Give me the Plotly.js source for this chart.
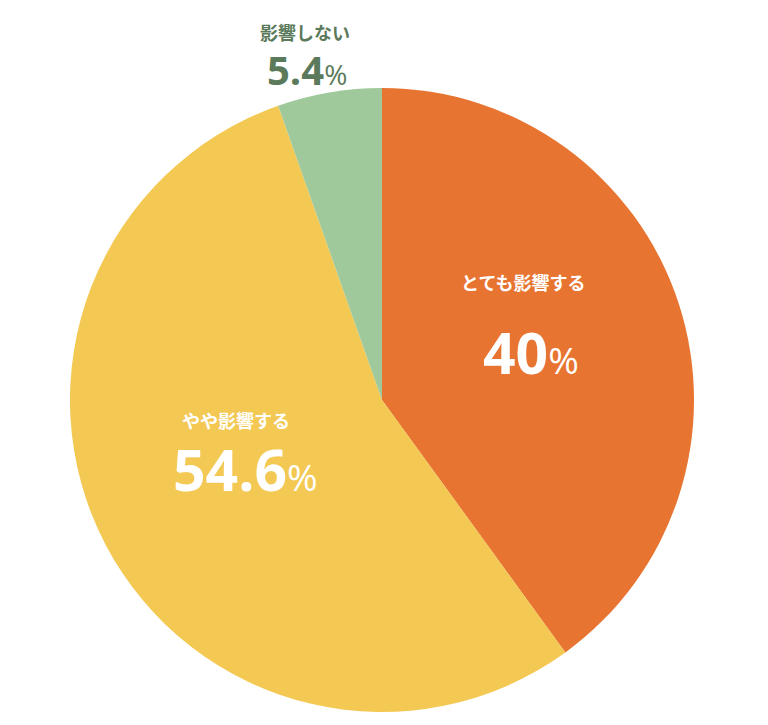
<!DOCTYPE html>
<html>
<head>
<meta charset="utf-8">
<script src="https://cdn.plot.ly/plotly-3.0.1.min.js"></script>
<style>html,body{margin:0;padding:0;background:#fff;}#chart{width:768px;height:725px;}</style>
</head>
<body>
<div id="chart"></div>
<script>
const categories = ["とても影響する", "やや影響する", "影響しない"];
const values = [40, 54.6, 5.4];
const valueLabels = ["40", "54.6", "5.4"];
const colors = ["#E87432", "#F3C853", "#A0C99B"];

const W = 768, H = 725;
const cx = 382, cy = 400, R = 312;

// label placement (pixel centers) and styles
const labelPos = [
  {nameX: 523, nameY: 282, valX: 531, valY: 352, color: "#ffffff", nameSize: 18, valSize: 57, pctSize: 37},
  {nameX: 236, nameY: 420, valX: 245, valY: 469, color: "#ffffff", nameSize: 18, valSize: 57, pctSize: 37},
  {nameX: 305, nameY: 32, valX: 307, valY: 70, color: "#5B7A5B", nameSize: 18, valSize: 40, pctSize: 28}
];

const annotations = [];
categories.forEach((c, i) => {
  const p = labelPos[i];
  annotations.push({
    xref: "paper", yref: "paper", x: p.nameX / W, y: 1 - p.nameY / H,
    xanchor: "center", yanchor: "middle", showarrow: false,
    text: "<b>" + c + "</b>",
    font: {family: "Noto Sans CJK JP, sans-serif", size: p.nameSize, color: p.color}
  });
  annotations.push({
    xref: "paper", yref: "paper", x: p.valX / W, y: 1 - p.valY / H,
    xanchor: "center", yanchor: "middle", showarrow: false,
    text: "<b>" + valueLabels[i] + "</b><span style=\"font-size:" + p.pctSize + "px\">%</span>",
    font: {family: "Open Sans, sans-serif", size: p.valSize, color: p.color}
  });
});

const data = [{
  type: "pie",
  labels: categories,
  values: values,
  marker: {colors: colors, line: {width: 0}},
  sort: false,
  direction: "clockwise",
  rotation: 0,
  textinfo: "none",
  hoverinfo: "label+percent",
  showlegend: false,
  domain: {x: [(cx - R) / W, (cx + R) / W], y: [1 - (cy + R) / H, 1 - (cy - R) / H]}
}];

const layout = {
  width: W, height: H,
  margin: {l: 0, r: 0, t: 0, b: 0},
  paper_bgcolor: "#ffffff",
  showlegend: false,
  annotations: annotations
};

Plotly.newPlot("chart", data, layout, {displayModeBar: false, staticPlot: true});
</script>
</body>
</html>
